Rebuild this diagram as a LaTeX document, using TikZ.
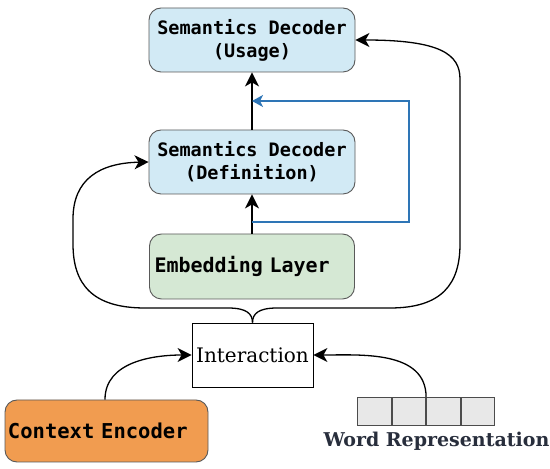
\documentclass[tikz,border=0pt]{standalone}
\usepackage{fontspec}
\setmonofont{DejaVu Sans Mono}
\newfontfamily\serifreg{DejaVu Serif}
\usetikzlibrary{arrows.meta}
\definecolor{decblue}{RGB}{210,234,245}
\definecolor{embgreen}{RGB}{213,232,212}
\definecolor{ctxorange}{RGB}{241,156,80}
\definecolor{cellgray}{RGB}{232,232,232}
\definecolor{loopblue}{RGB}{46,117,182}
\definecolor{labeldark}{RGB}{40,46,60}
\tikzset{
  modbox/.style={draw=black!65, line width=0.9pt, rounded corners=12pt, font=\ttfamily\bfseries},
  decbox/.style={modbox, fill=decblue, minimum width=206pt, minimum height=64pt, align=center,
    font=\fontsize{18.5}{23}\selectfont\ttfamily\bfseries},
  cellbox/.style={draw=black!70, line width=0.8pt, fill=cellgray, minimum width=33.75pt, minimum height=28pt, inner sep=0pt},
  conn/.style={black, line width=1.3pt},
  arr/.style={conn, -{Stealth[length=14pt,width=14pt,inset=4pt]}},
  bluearr/.style={loopblue, line width=1.4pt, -{Stealth[length=11pt,width=12pt,inset=3pt]}}
}
\begin{document}
\begin{tikzpicture}[x=1pt,y=1pt]
\useasboundingbox (0,0) rectangle (550,469);
\node[decbox] (usage) at (252,429) {Semantics Decoder\\(Usage)};
\node[decbox] (def) at (252,307) {Semantics Decoder\\(Definition)};
\node[modbox, fill=embgreen, minimum width=205pt, minimum height=65pt, text width=195pt, inner xsep=5pt, align=left,
  font=\fontsize{20}{24}\selectfont\ttfamily\bfseries] (emb) at (252,202.5) {Embedding Layer};
\node[draw=black, line width=0.8pt, minimum width=121pt, minimum height=64pt, inner sep=0pt,
  font=\fontsize{20}{23}\selectfont\serifreg] (inter) at (252.5,114) {Interaction};
\node[modbox, fill=ctxorange, minimum width=203pt, minimum height=62pt, text width=197pt, inner xsep=3pt, align=left,
  font=\fontsize{20.5}{24}\selectfont\ttfamily\bfseries] (ctx) at (106.5,38) {Context Encoder};
\node[cellbox, anchor=south west] (w1) at (357,43) {};
\node[cellbox, anchor=south west] (w2) at (w1.south east) {};
\node[cellbox, anchor=south west] (w3) at (w2.south east) {};
\node[cellbox, anchor=south west] (w4) at (w3.south east) {};
\node[anchor=base, inner sep=0pt, text=labeldark, font=\fontsize{19}{22}\selectfont\serifreg\bfseries] (wlabel) at (436.5,22) {Word Representation};

% vertical flow
\draw[arr] (emb.north) -- (def.south);
\draw[arr] (def.north) -- (usage.south);
% blue skip connection
\coordinate (b1) at (252,247);
\coordinate (b2) at (252,368);
\draw[bluearr] (b1) -- (409,247) -- (409,368) -- (b2);
% inputs to interaction
\draw[arr] (ctx.north -| 105,0) to[out=90,in=180] (inter.west);
\draw[arr] (w3.north west) to[out=90,in=0] (inter.east);
% interaction outputs (brace)
\draw[arr] (inter.north) .. controls (252.5,155) and (247,161) .. (228,161) -- (145,161)
  .. controls (92,161) and (73,185) .. (73,225) -- (73,250)
  .. controls (73,290) and (100,306) .. (def.west);
\draw[arr] (inter.north) .. controls (252.5,155) and (258,161) .. (277,161) -- (390,161)
  .. controls (442,161) and (460,185) .. (460,225) -- (460,390)
  .. controls (460,415) and (440,429) .. (usage.east);
\end{tikzpicture}
\end{document}
